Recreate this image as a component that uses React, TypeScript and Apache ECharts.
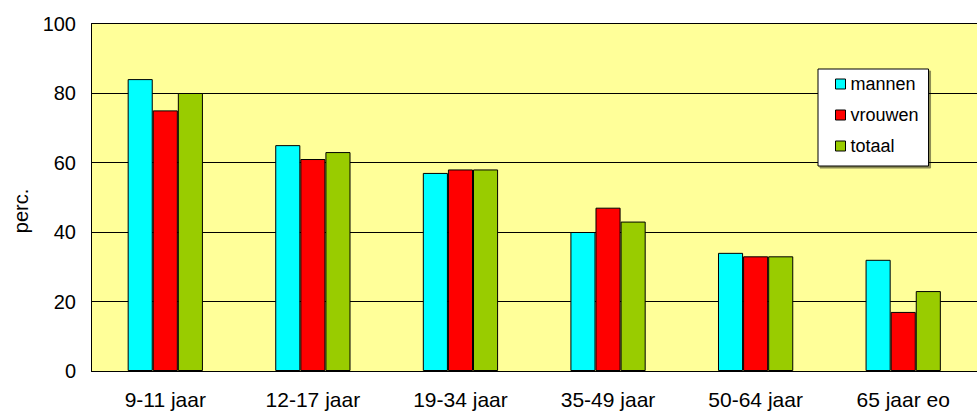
import React, { useEffect, useRef } from "react";
import * as echarts from "echarts";

const categories = ["9-11 jaar", "12-17 jaar", "19-34 jaar", "35-49 jaar", "50-64 jaar", "65 jaar eo"];
const mannen = [84, 65, 57, 40, 34, 32];
const vrouwen = [75, 61, 58, 47, 33, 17];
const totaal = [80, 63, 58, 43, 33, 23];
const seriesNames = ["mannen", "vrouwen", "totaal"];
const yTicks = { min: 0, max: 100, interval: 20 };
const axisName = "perc.";

const FONT = "'Liberation Sans', Arial, sans-serif";

export default function App() {
  const ref = useRef<HTMLDivElement>(null);
  useEffect(() => {
    if (!ref.current) return;
    const chart = echarts.init(ref.current, null, { renderer: "svg" });
    const colors = ["#00FFFF", "#FF0000", "#99CC00"];
    const data = [mannen, vrouwen, totaal];
    chart.setOption({
      animation: false,
      backgroundColor: "#FFFFFF",
      textStyle: { fontFamily: FONT },
      grid: {
        left: 91.5,
        right: -8,
        top: 23.5,
        bottom: 41,
        show: true,
        backgroundColor: "#FFFF99",
        borderWidth: 0,
      },
      legend: {
        orient: "vertical",
        left: 818,
        top: 69,
        backgroundColor: "#FFFFFF",
        borderColor: "#000000",
        borderWidth: 1,
        shadowColor: "rgba(0,0,0,0.45)",
        shadowBlur: 1,
        shadowOffsetX: 2,
        shadowOffsetY: 2,
        padding: [6, 10, 11, 17],
        itemWidth: 10,
        itemHeight: 10,
        itemGap: 13,
        icon: "rect",
        itemStyle: { borderColor: "#000", borderWidth: 1 },
        textStyle: { fontFamily: FONT, fontSize: 18, color: "#000", lineHeight: 18 },
        data: seriesNames,
      },
      graphic: [
        {
          type: "text",
          x: 20.5,
          y: 211,
          rotation: Math.PI / 2,
          style: {
            text: axisName,
            font: `20px ${FONT}`,
            fill: "#000",
            align: "center",
            verticalAlign: "middle",
          },
        },
      ],
      xAxis: {
        type: "category",
        data: categories,
        axisLine: { show: true, lineStyle: { color: "#000", width: 1 } },
        axisTick: { show: false },
        axisLabel: { fontFamily: FONT, fontSize: 21, color: "#000", margin: 18 },
      },
      yAxis: {
        type: "value",
        min: yTicks.min,
        max: yTicks.max,
        interval: yTicks.interval,
        axisLine: { show: true, lineStyle: { color: "#000", width: 1 } },
        axisTick: { show: false },
        splitLine: { show: true, lineStyle: { color: "#000", width: 1 } },
        axisLabel: { fontFamily: FONT, fontSize: 20, color: "#000", margin: 15.5 },
      },
      series: seriesNames.map((name, i) => ({
        name,
        type: "bar",
        data: data[i],
        barGap: "0%",
        barCategoryGap: "49%",
        itemStyle: { color: colors[i], borderColor: "#000", borderWidth: 1 },
      })),
    });
    return () => chart.dispose();
  }, []);
  return (
    <div
      ref={ref}
      style={{ position: "fixed", left: 0, top: 0, width: 977, height: 412 }}
    />
  );
}
